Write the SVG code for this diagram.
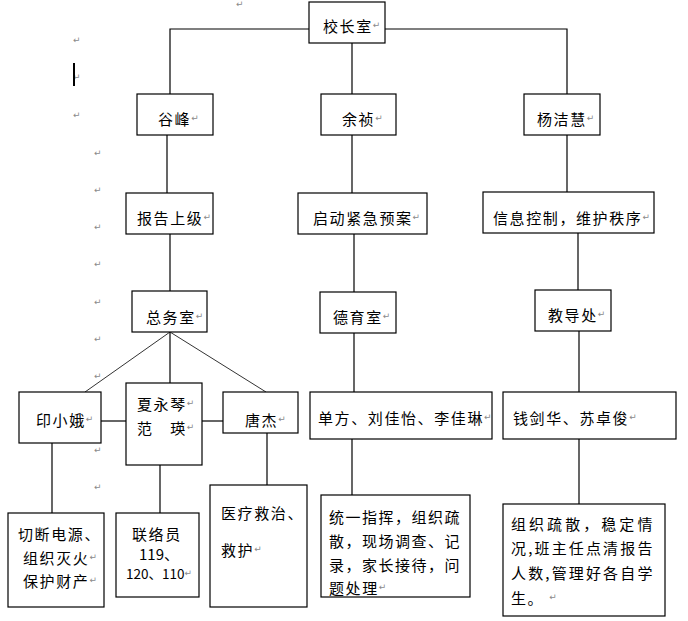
<svg xmlns="http://www.w3.org/2000/svg" width="688" height="621" viewBox="0 0 688 621">
<style>
.box{fill:#fff;stroke:#000;stroke-width:1.2}
.ln{fill:none;stroke:#000;stroke-width:1.2}
.dg{fill:none;stroke:#333;stroke-width:1}
.t{font-family:"Noto Sans CJK SC","Noto Sans",sans-serif;font-size:15px;fill:#000;letter-spacing:1.6px;dominant-baseline:central}
.pm{font-family:"DejaVu Sans",sans-serif;font-size:9px;fill:#8a8a8a;letter-spacing:0}
.pmf{font-family:"DejaVu Sans",sans-serif;font-size:9px;fill:#8a8a8a;dominant-baseline:central}
</style>
<rect width="688" height="621" fill="#fff"/>
<g id="marks">
<text class="pmf" x="236" y="4">↵</text>
<text class="pmf" x="73" y="40">↵</text>
<text class="pmf" x="73" y="77">↵</text>
<text class="pmf" x="73" y="115">↵</text>
<text class="pmf" x="94" y="153">↵</text>
<text class="pmf" x="94" y="190">↵</text>
<text class="pmf" x="94" y="227">↵</text>
<text class="pmf" x="94" y="264">↵</text>
<text class="pmf" x="94" y="302">↵</text>
<text class="pmf" x="94" y="339">↵</text>
<text class="pmf" x="94" y="376">↵</text>
<text class="pmf" x="94" y="450">↵</text>
<text class="pmf" x="94" y="487">↵</text>
<rect x="73" y="63" width="2" height="23" fill="#000"/>
</g>
<g id="connectors">
<polyline class="ln" points="309,29 170,29 170,94"/>
<polyline class="ln" points="385,29 567,29 567,94"/>
<line class="ln" x1="352" y1="43" x2="352" y2="94"/>
<line class="ln" x1="167" y1="135" x2="167" y2="193"/>
<line class="ln" x1="170" y1="234" x2="170" y2="291"/>
<line class="ln" x1="352" y1="135" x2="352" y2="193"/>
<line class="ln" x1="354" y1="234" x2="354" y2="292"/>
<line class="ln" x1="567" y1="135" x2="567" y2="192"/>
<line class="ln" x1="578" y1="233" x2="578" y2="290"/>
<line class="dg" x1="170" y1="332" x2="85" y2="392"/>
<line class="ln" x1="170" y1="332" x2="170" y2="383"/>
<line class="dg" x1="170" y1="332" x2="266" y2="392"/>
<line class="ln" x1="101" y1="421" x2="126" y2="421"/>
<line class="ln" x1="202" y1="421" x2="223" y2="421"/>
<line class="ln" x1="52" y1="443" x2="52" y2="513"/>
<line class="ln" x1="160" y1="465" x2="160" y2="513"/>
<line class="ln" x1="267" y1="433" x2="267" y2="485"/>
<line class="ln" x1="354" y1="333" x2="354" y2="392"/>
<line class="ln" x1="352" y1="439" x2="352" y2="495"/>
<line class="ln" x1="579" y1="331" x2="579" y2="392"/>
<line class="ln" x1="579" y1="439" x2="579" y2="504"/>
</g>
<g id="xiaozhangshi"><rect class="box" x="309" y="2" width="76" height="41"/><text class="t" x="323" y="25">校长室<tspan class="pm">↵</tspan></text></g>
<g id="gufeng"><rect class="box" x="137" y="94" width="76" height="41"/><text class="t" x="158" y="118">谷峰<tspan class="pm">↵</tspan></text></g>
<g id="yuzhen"><rect class="box" x="321" y="94" width="75" height="41"/><text class="t" x="342" y="118">余祯<tspan class="pm">↵</tspan></text></g>
<g id="yangjiehui"><rect class="box" x="524" y="94" width="76" height="41"/><text class="t" x="537" y="118">杨洁慧<tspan class="pm">↵</tspan></text></g>
<g id="baogao"><rect class="box" x="126" y="193" width="87" height="41"/><text class="t" x="137" y="217">报告上级<tspan class="pm">↵</tspan></text></g>
<g id="qidong"><rect class="box" x="298" y="193" width="129" height="41"/><text class="t" x="313" y="217">启动紧急预案<tspan class="pm">↵</tspan></text></g>
<g id="xinxi"><rect class="box" x="483" y="192" width="171" height="41"/><text class="t" x="493" y="217">信息控制，维护秩序<tspan class="pm">↵</tspan></text></g>
<g id="zongwushi"><rect class="box" x="132" y="291" width="75" height="41"/><text class="t" x="146" y="316">总务室<tspan class="pm">↵</tspan></text></g>
<g id="deyushi"><rect class="box" x="320" y="292" width="76" height="41"/><text class="t" x="333" y="316">德育室<tspan class="pm">↵</tspan></text></g>
<g id="jiaodaochu"><rect class="box" x="535" y="290" width="76" height="41"/><text class="t" x="548" y="314">教导处<tspan class="pm">↵</tspan></text></g>
<g id="yinxiaoe"><rect class="box" x="19" y="392" width="82" height="51"/><text class="t" x="36" y="419">印小娥<tspan class="pm">↵</tspan></text></g>
<g id="xiayongqin"><rect class="box" x="126" y="383" width="76" height="82"/><text class="t" x="137" y="403">夏永琴<tspan class="pm">↵</tspan></text><text class="t" x="137" y="427">范　瑛<tspan class="pm">↵</tspan></text></g>
<g id="tangjie"><rect class="box" x="223" y="392" width="75" height="41"/><text class="t" x="245" y="419">唐杰<tspan class="pm">↵</tspan></text></g>
<g id="danfang"><rect class="box" x="310" y="392" width="182" height="47"/><text class="t" x="318" y="417">单方、刘佳怡、李佳琳<tspan class="pm">↵</tspan></text></g>
<g id="qianjianhua"><rect class="box" x="503" y="392" width="173" height="47"/><text class="t" x="513" y="417">钱剑华、苏卓俊<tspan class="pm">↵</tspan></text></g>
<g id="qieduan"><rect class="box" x="8" y="513" width="96" height="94"/><text class="t" x="18" y="533">切断电源、</text><text class="t" x="23" y="557">组织灭火<tspan class="pm">↵</tspan></text><text class="t" x="23" y="580">保护财产<tspan class="pm">↵</tspan></text></g>
<g id="lianluoyuan"><rect class="box" x="116" y="513" width="83" height="84"/><text class="t" x="132" y="533">联络员</text><text class="t" x="139" y="553" style="letter-spacing:0">119、</text><text class="t" x="126" y="573" style="letter-spacing:0;font-size:13.5px">120、110<tspan class="pm">↵</tspan></text></g>
<g id="yiliao"><rect class="box" x="210" y="485" width="97" height="122"/><text class="t" x="221" y="512">医疗救治、</text><text class="t" x="221" y="549">救护<tspan class="pm">↵</tspan></text></g>
<g id="tongyi"><rect class="box" x="321" y="495" width="149" height="102"/>
<text class="t" x="329" y="516" textLength="132" lengthAdjust="spacing">统一指挥，组织疏</text>
<text class="t" x="329" y="540" textLength="132" lengthAdjust="spacing">散，现场调查、记</text>
<text class="t" x="329" y="564" textLength="132" lengthAdjust="spacing">录，家长接待，问</text>
<text class="t" x="329" y="587">题处理<tspan class="pm">↵</tspan></text></g>
<g id="zuzhi"><rect class="box" x="503" y="504" width="162" height="112"/>
<text class="t" x="511" y="523" textLength="143" lengthAdjust="spacing">组织疏散，稳定情</text>
<text class="t" x="511" y="547" textLength="143" lengthAdjust="spacing">况,班主任点清报告</text>
<text class="t" x="511" y="572" textLength="143" lengthAdjust="spacing">人数,管理好各自学</text>
<text class="t" x="511" y="597">生。 <tspan class="pm">↵</tspan></text></g>
</svg>
